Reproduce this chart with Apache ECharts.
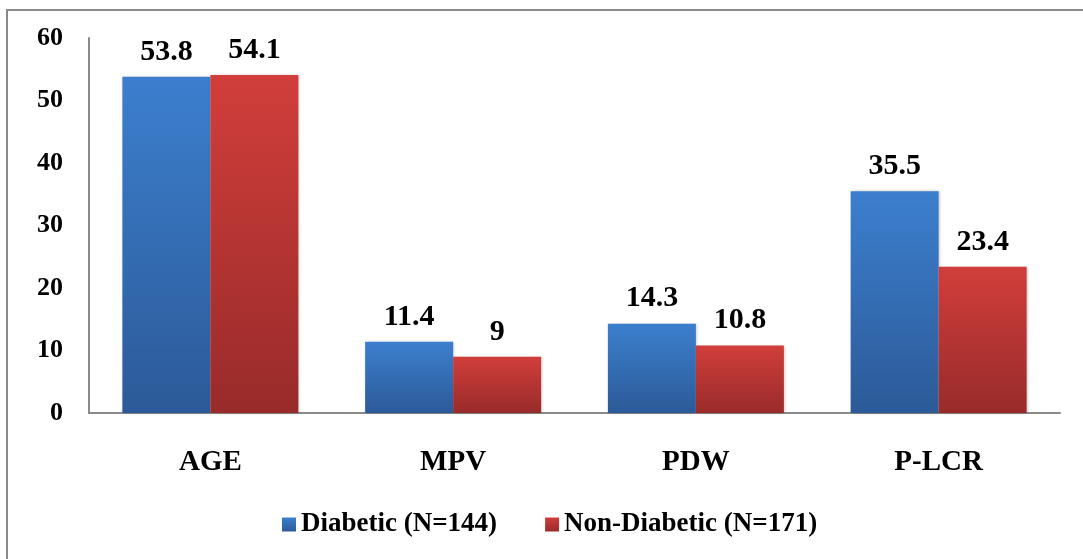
<!DOCTYPE html>
<html style="height: 100%">
<head>
    <meta charset="utf-8">
    <title>Diabetic vs Non-Diabetic</title>
    <script type="text/javascript" src="https://cdn.jsdelivr.net/npm/echarts@6/dist/echarts.min.js"></script>
</head>
<body style="height: 100%; margin: 0; background: #fff">
    <div id="container" style="width: 1083px; height: 559px"></div>
    <script type="text/javascript">
        // data
        var categories = ['AGE', 'MPV', 'PDW', 'P-LCR'];
        var diabetic = [53.8, 11.4, 14.3, 35.5];
        var nonDiabetic = [54.1, 9, 10.8, 23.4];
        var seriesNames = ['Diabetic (N=144)', 'Non-Diabetic (N=171)'];

        var font = 'Liberation Serif';

        function grad(top, bottom) {
            return new echarts.graphic.LinearGradient(0, 0, 0, 1, [
                { offset: 0, color: top },
                { offset: 1, color: bottom }
            ]);
        }

        var labelStyle = {
            show: true,
            position: 'top',
            distance: 10,
            fontFamily: font,
            fontWeight: 'bold',
            fontSize: 30,
            color: '#000'
        };

        var myChart = echarts.init(document.getElementById('container'));
        var option = {
            animation: false,
            // outer frame of the figure
            graphic: [{
                type: 'rect',
                shape: { x: 7, y: 10, width: 1100, height: 600 },
                style: { fill: 'none', stroke: '#8a8a8a', lineWidth: 2 },
                silent: true
            }],
            grid: {
                left: 89,
                right: 23,
                top: 38,
                bottom: 146
            },
            legend: {
                bottom: 16,
                left: 277,
                itemWidth: 14,
                itemHeight: 14,
                itemGap: 48,
                icon: 'rect',
                textStyle: {
                    fontFamily: font,
                    fontWeight: 'bold',
                    fontSize: 27,
                    color: '#000'
                },
                data: seriesNames
            },
            xAxis: {
                type: 'category',
                data: categories,
                axisLine: { lineStyle: { color: '#8a8a8a', width: 2 } },
                axisTick: { show: false },
                axisLabel: {
                    margin: 35,
                    fontFamily: font,
                    fontWeight: 'bold',
                    fontSize: 29,
                    color: '#000'
                }
            },
            yAxis: {
                type: 'value',
                min: 0,
                max: 60,
                interval: 10,
                splitLine: { show: false },
                axisLine: { show: true, lineStyle: { color: '#8a8a8a', width: 2 } },
                axisTick: { show: false },
                axisLabel: {
                    margin: 26,
                    fontFamily: font,
                    fontWeight: 'bold',
                    fontSize: 26,
                    color: '#000'
                }
            },
            series: [
                {
                    name: seriesNames[0],
                    type: 'bar',
                    barWidth: 88,
                    barGap: '0%',
                    itemStyle: {
                        color: grad('#3c7fce', '#2c5a98'),
                        shadowColor: 'rgba(0,0,0,0.25)',
                        shadowBlur: 3,
                        shadowOffsetX: 1
                    },
                    label: labelStyle,
                    data: diabetic
                },
                {
                    name: seriesNames[1],
                    type: 'bar',
                    barWidth: 88,
                    barGap: '0%',
                    itemStyle: {
                        color: grad('#d13e3b', '#982b2a'),
                        shadowColor: 'rgba(0,0,0,0.25)',
                        shadowBlur: 3,
                        shadowOffsetX: 1
                    },
                    label: labelStyle,
                    data: nonDiabetic
                }
            ]
        };
        myChart.setOption(option);
    </script>
</body>
</html>
